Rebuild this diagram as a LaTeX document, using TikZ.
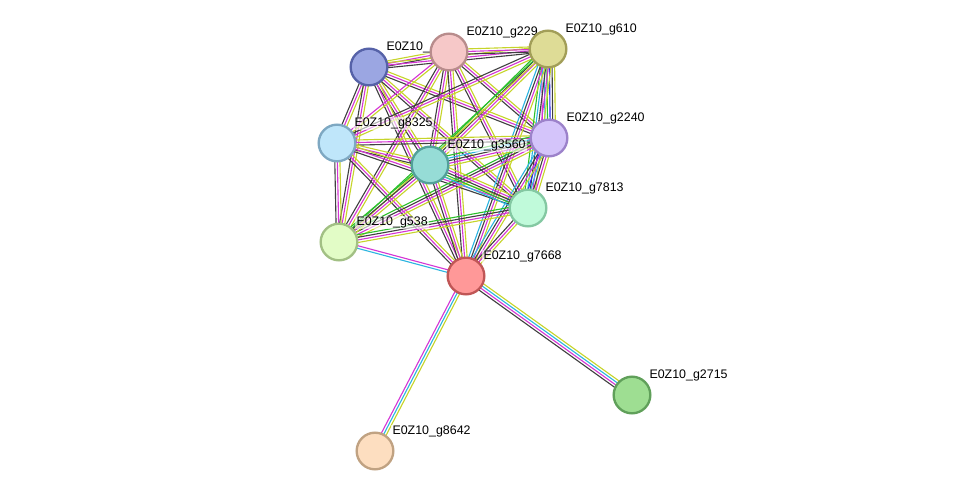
\documentclass[tikz,border=0pt]{standalone}
\usepackage{fontspec}
\setmainfont{Liberation Sans}
\usetikzlibrary{calc}
\pgfdeclarelayer{edges}
\pgfsetlayers{edges,main}
\definecolor{ek}{HTML}{404040}
\definecolor{em}{HTML}{D436D4}
\definecolor{ey}{HTML}{C6D42A}
\definecolor{ec}{HTML}{2DB5E0}
\definecolor{eg}{HTML}{2CC02C}
\definecolor{eb}{HTML}{2A2AF0}
\begin{document}
\begin{tikzpicture}[x=0.03cm, y=-0.03cm,
  prot/.style={circle, minimum size=1.1cm, line width=2pt, inner sep=0pt},
  lbl/.style={font=\fontsize{10.6}{12}\selectfont, fill=white, fill opacity=0.6, text opacity=1, inner sep=1pt, xshift=2pt, yshift=-1pt},
  ln/.style={line width=0.95pt}]
\useasboundingbox (0,0) rectangle (976,497);
\node[prot, fill={rgb,255:red,155;green,166;blue,226}, draw={rgb,255:red,86;green,98;blue,168}, label={[lbl]45:E0Z10\_}] (gx) at (369,67) {};
\node[prot, fill={rgb,255:red,246;green,200;blue,200}, draw={rgb,255:red,184;green,140;blue,140}, label={[lbl]45:E0Z10\_g229}] (g229) at (449,52) {};
\node[prot, fill={rgb,255:red,222;green,220;blue,150}, draw={rgb,255:red,162;green,158;blue,88}, label={[lbl]45:E0Z10\_g610}] (g610) at (548,49) {};
\node[prot, fill={rgb,255:red,191;green,230;blue,250}, draw={rgb,255:red,126;green,168;blue,194}, label={[lbl]45:E0Z10\_g8325}] (g8325) at (337,143) {};
\node[prot, fill={rgb,255:red,212;green,196;blue,250}, draw={rgb,255:red,156;green,130;blue,202}, label={[lbl]45:E0Z10\_g2240}] (g2240) at (549,138) {};
\node[prot, fill={rgb,255:red,150;green,220;blue,214}, draw={rgb,255:red,82;green,160;blue,154}, label={[lbl]45:E0Z10\_g3560}] (g3560) at (430,165) {};
\node[prot, fill={rgb,255:red,192;green,250;blue,218}, draw={rgb,255:red,132;green,200;blue,162}, label={[lbl]45:E0Z10\_g7813}] (g7813) at (528,208) {};
\node[prot, fill={rgb,255:red,226;green,252;blue,198}, draw={rgb,255:red,162;green,192;blue,132}, label={[lbl]45:E0Z10\_g538}] (g538) at (339,242) {};
\node[prot, fill={rgb,255:red,255;green,152;blue,152}, draw={rgb,255:red,192;green,86;blue,86}, label={[lbl]45:E0Z10\_g7668}] (g7668) at (466,276) {};
\node[prot, fill={rgb,255:red,158;green,222;blue,146}, draw={rgb,255:red,96;green,160;blue,90}, label={[lbl]45:E0Z10\_g2715}] (g2715) at (632,395) {};
\node[prot, fill={rgb,255:red,253;green,222;blue,192}, draw={rgb,255:red,192;green,162;blue,130}, label={[lbl]45:E0Z10\_g8642}] (g8642) at (375,451) {};
\begin{pgfonlayer}{edges}
\foreach \a/\b/\n/\cols in {gx/g229/3/{ek,em,ey}, gx/g610/3/{ek,em,ey}, g229/g610/3/{ek,em,ey},
  gx/g8325/3/{ek,em,ey}, gx/g3560/3/{ek,em,ey}, gx/g2240/3/{ek,em,ey}, gx/g7813/3/{ek,em,ey},
  gx/g538/3/{ek,em,ey}, gx/g7668/3/{ek,em,ey}, g229/g8325/2/{em,ey}, g229/g3560/3/{ek,em,ey},
  g229/g2240/3/{ek,em,ey}, g229/g7813/3/{ek,em,ey}, g229/g538/3/{ek,em,ey}, g229/g7668/3/{ek,em,ey},
  g610/g8325/3/{ek,em,ey}, g610/g3560/4/{eg,ek,em,ey}, g610/g2240/6/{em,ec,eg,eb,ek,ey},
  g610/g7813/5/{eg,ec,ek,em,ey}, g610/g538/2/{eg,ey}, g610/g7668/4/{ec,ek,em,ey},
  g8325/g2240/3/{ek,em,ey}, g8325/g3560/3/{ek,em,ey}, g8325/g7813/3/{ek,em,ey},
  g8325/g538/3/{ek,em,ey}, g8325/g7668/3/{ek,em,ey}, g2240/g3560/5/{eg,ec,ek,em,ey},
  g2240/g7813/5/{eb,ec,ek,em,ey}, g2240/g538/4/{eg,ek,em,ey}, g2240/g7668/4/{ec,ek,em,ey},
  g3560/g7813/5/{ec,eg,ek,em,ey}, g3560/g538/4/{eg,ek,em,ey}, g3560/g7668/3/{ek,em,ey},
  g7813/g538/4/{eg,ek,em,ey}, g7813/g7668/3/{ek,em,ey}, g538/g7668/2/{ec,em},
  g7668/g2715/4/{ek,em,ec,ey}, g7668/g8642/3/{em,ec,ey}}{
  \foreach \c [count=\i] in \cols {
    \pgfmathsetmacro\off{(\i-(\n+1)/2)*2.2}
    \draw[ln, \c] ($(\a)!\off pt!90:(\b)$) -- ($(\b)!\off pt!-90:(\a)$);
  }
}
\end{pgfonlayer}
\end{tikzpicture}
\end{document}
